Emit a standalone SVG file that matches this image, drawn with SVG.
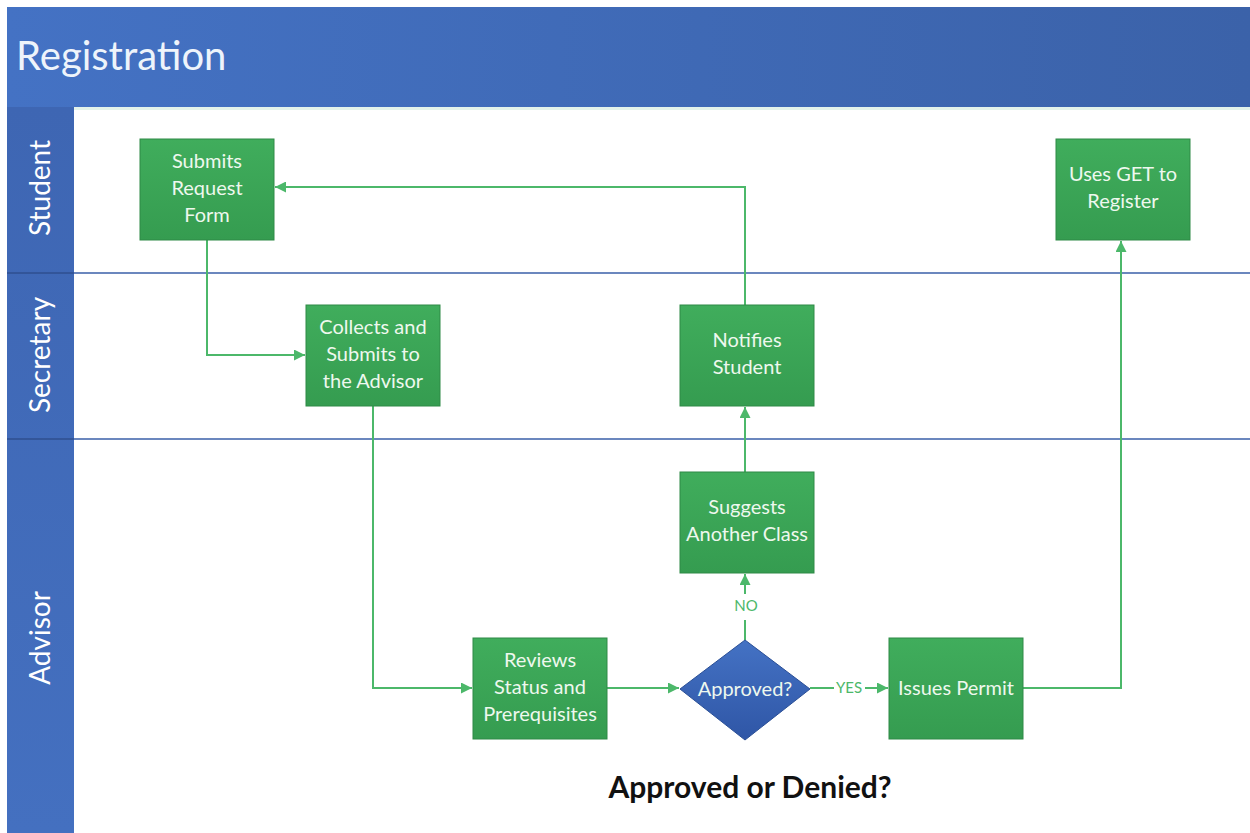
<svg xmlns="http://www.w3.org/2000/svg" width="1250" height="833" viewBox="0 0 1250 833">
<defs>
<linearGradient id="hdr" x1="0" y1="0" x2="1" y2="0"><stop offset="0" stop-color="#4472c4"/><stop offset="1" stop-color="#3b62a9"/></linearGradient>
<linearGradient id="lane" x1="0" y1="0" x2="0" y2="1"><stop offset="0" stop-color="#3e66b3"/><stop offset="1" stop-color="#4470c0"/></linearGradient>
<linearGradient id="box" x1="0" y1="0" x2="0" y2="1"><stop offset="0" stop-color="#40ad5c"/><stop offset="1" stop-color="#359c50"/></linearGradient>
<linearGradient id="dia" x1="0" y1="0" x2="0" y2="1"><stop offset="0" stop-color="#4472c4"/><stop offset="1" stop-color="#2f56a6"/></linearGradient>
<marker id="a" viewBox="0 0 10 10" refX="10" refY="5" markerWidth="11" markerHeight="11" markerUnits="userSpaceOnUse" orient="auto"><path d="M0,0 L10,5 L0,10 z" fill="#4cb86a"/></marker>
</defs>
<style>
.bx{fill:url(#box);stroke:#2f8a46;stroke-width:1}
.t{font-family:Lato,"Open Sans",sans-serif;font-size:20px;fill:#eef8ee;text-anchor:middle}
.ln{font-family:Lato,"Open Sans",sans-serif;font-size:28px;fill:#ffffff;text-anchor:middle}
.c{fill:none;stroke:#4cb86a;stroke-width:2}
.lbl{font-family:Lato,"Open Sans",sans-serif;font-size:15px;fill:#4cb86a;text-anchor:middle}
.div{stroke:#3a5fa8;stroke-width:1.5}
</style>
<rect x="0" y="0" width="1250" height="833" fill="#ffffff"/>
<g id="header">
<rect x="7" y="7" width="1243" height="100" fill="url(#hdr)"/>
<text x="16" y="70" font-family="Lato,'Open Sans',sans-serif" font-size="40" fill="#eef4fb">Registration</text>
</g>
<g id="lanes">
<rect x="74" y="107" width="1176" height="3" fill="#e3f2ea"/>
<rect x="7" y="107" width="67" height="726" fill="url(#lane)"/>
<line x1="7" y1="273" x2="74" y2="273" stroke="#2f4f8f" stroke-width="1.5"/>
<line x1="7" y1="439" x2="74" y2="439" stroke="#2f4f8f" stroke-width="1.5"/>
<line class="div" x1="74" y1="273" x2="1250" y2="273"/>
<line class="div" x1="74" y1="439" x2="1250" y2="439"/>
<text class="ln" transform="translate(50,188) rotate(-90)">Student</text>
<text class="ln" transform="translate(50,355) rotate(-90)">Secretary</text>
<text class="ln" transform="translate(50,638) rotate(-90)">Advisor</text>
</g>
<g id="connectors">
<polyline class="c" points="207,240 207,355 305,355" marker-end="url(#a)"/>
<polyline class="c" points="373,406 373,688 472,688" marker-end="url(#a)"/>
<polyline class="c" points="607,688 679,688" marker-end="url(#a)"/>
<polyline class="c" points="745,640 745,620"/>
<polyline class="c" points="745,594 745,574" marker-end="url(#a)"/>
<text class="lbl" x="746" y="611">NO</text>
<polyline class="c" points="745,472 745,407" marker-end="url(#a)"/>
<polyline class="c" points="745,305 745,187 275,187" marker-end="url(#a)"/>
<polyline class="c" points="810,688 834,688"/>
<polyline class="c" points="865,688 888,688" marker-end="url(#a)"/>
<text class="lbl" x="849" y="693">YES</text>
<polyline class="c" points="1023,688 1121,688 1121,241" marker-end="url(#a)"/>
</g>
<g id="n-submits">
<rect class="bx" x="140" y="139" width="134" height="101"/>
<text class="t" x="207" y="168">Submits</text>
<text class="t" x="207" y="195">Request</text>
<text class="t" x="207" y="222">Form</text>
</g>
<g id="n-collects">
<rect class="bx" x="306" y="305" width="134" height="101"/>
<text class="t" x="373" y="334">Collects and</text>
<text class="t" x="373" y="361">Submits to</text>
<text class="t" x="373" y="388">the Advisor</text>
</g>
<g id="n-notifies">
<rect class="bx" x="680" y="305" width="134" height="101"/>
<text class="t" x="747" y="347">Notifies</text>
<text class="t" x="747" y="374">Student</text>
</g>
<g id="n-suggests">
<rect class="bx" x="680" y="472" width="134" height="101"/>
<text class="t" x="747" y="514">Suggests</text>
<text class="t" x="747" y="541">Another Class</text>
</g>
<g id="n-reviews">
<rect class="bx" x="473" y="638" width="134" height="101"/>
<text class="t" x="540" y="667">Reviews</text>
<text class="t" x="540" y="694">Status and</text>
<text class="t" x="540" y="721">Prerequisites</text>
</g>
<g id="n-approved">
<polygon points="745,640 810,689 745,740 680,689" fill="url(#dia)" stroke="#2a4f96" stroke-width="1"/>
<text class="t" x="745" y="696" fill="#eef4fb">Approved?</text>
</g>
<g id="n-issues">
<rect class="bx" x="889" y="638" width="134" height="101"/>
<text class="t" x="956" y="695">Issues Permit</text>
</g>
<g id="n-uses">
<rect class="bx" x="1056" y="139" width="134" height="101"/>
<text class="t" x="1123" y="181">Uses GET to</text>
<text class="t" x="1123" y="208">Register</text>
</g>
<g id="caption">
<text x="750" y="798" font-family="Lato,'Open Sans',sans-serif" font-size="30" font-weight="bold" fill="#111111" text-anchor="middle">Approved or Denied?</text>
</g>
</svg>
